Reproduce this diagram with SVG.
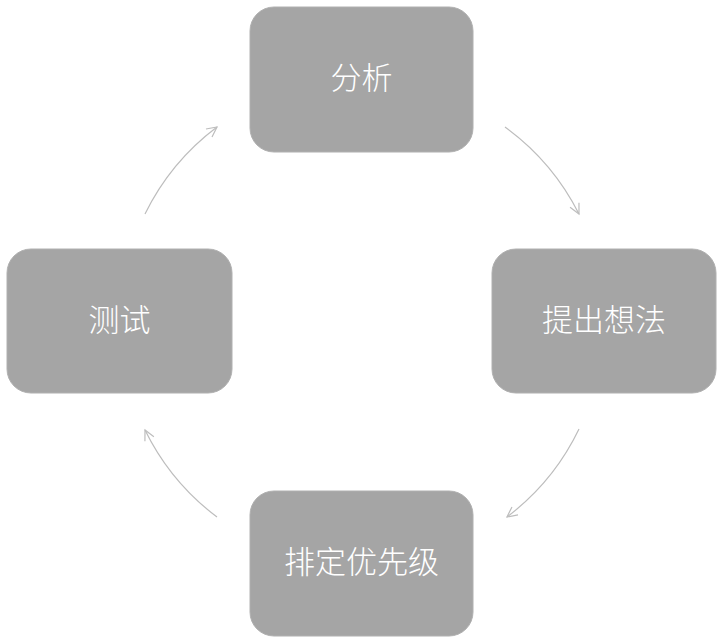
<svg xmlns="http://www.w3.org/2000/svg" width="722" height="643" viewBox="0 0 722 643">
<style>
.box{fill:#a5a5a5;stroke:#b0b0b0;stroke-width:1}
.lbl{fill:#ffffff;font-family:"Noto Sans CJK SC","Liberation Sans",sans-serif;font-size:31px;font-weight:300;text-anchor:middle;dominant-baseline:central}
.arc{fill:none;stroke:#bdbdbd;stroke-width:1.2;marker-end:url(#ah)}
</style>
<defs>
<marker id="ah" markerUnits="userSpaceOnUse" markerWidth="14" markerHeight="14" refX="11" refY="6" orient="auto" viewBox="0 0 14 12">
<path d="M1,1 L11,6 L1,11" fill="none" stroke="#bdbdbd" stroke-width="1.2"/>
</marker>
</defs>
<rect width="722" height="643" fill="#ffffff"/>
<g id="connectors">
<path class="arc" d="M505,127 A242,242 0 0 1 579,214"/>
<path class="arc" d="M579,429 A242,242 0 0 1 507,517"/>
<path class="arc" d="M217,517 A242,242 0 0 1 145,430"/>
<path class="arc" d="M145,214 A242,242 0 0 1 217,127"/>
</g>
<g id="n1"><rect class="box" x="250" y="7" width="223" height="145" rx="24"/><text class="lbl" x="361.5" y="75">分析</text></g>
<g id="n2"><rect class="box" x="492" y="249" width="224" height="144" rx="24"/><text class="lbl" x="604" y="317">提出想法</text></g>
<g id="n3"><rect class="box" x="250" y="491" width="223" height="145" rx="24"/><text class="lbl" x="361.5" y="559">排定优先级</text></g>
<g id="n4"><rect class="box" x="7" y="249" width="225" height="144" rx="24"/><text class="lbl" x="119.5" y="317">测试</text></g>
</svg>
